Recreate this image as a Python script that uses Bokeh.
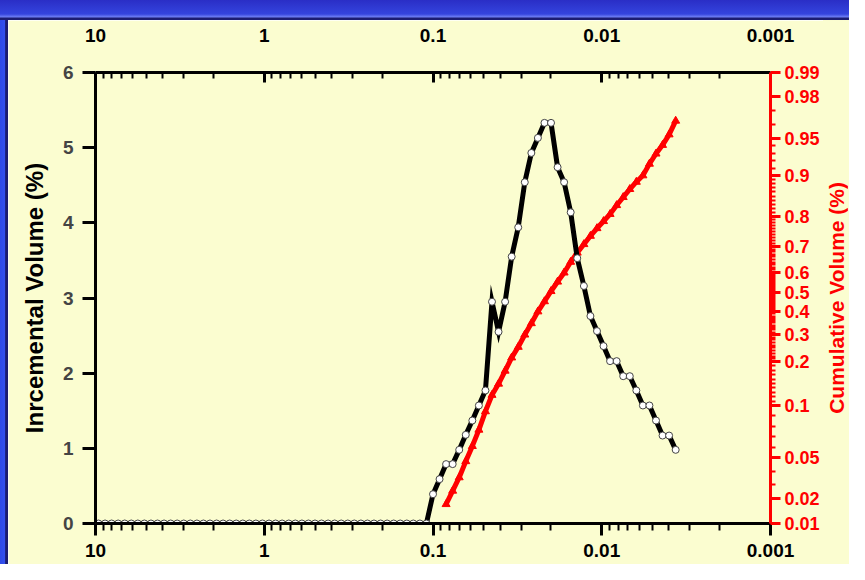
import numpy as np
from bokeh.plotting import figure
from bokeh.models import (Range1d, LogAxis, LinearAxis, FixedTicker,
                          CustomJSTickFormatter, Div)
from bokeh.layouts import column, row
from bokeh.embed import file_html
from bokeh.resources import INLINE

# ---------------- data ----------------
# particle diameter of each size class (same unit as the axis), coarse -> fine
diameter = [
    9.603, 8.780, 8.029, 7.341, 6.713, 6.138, 5.613, 5.132, 4.692, 4.291,
    3.923, 3.587, 3.281, 3.000, 2.742, 2.507, 2.293, 2.097, 1.917, 1.754,
    1.603, 1.466, 1.340, 1.226, 1.121, 1.025, 0.9372, 0.8569, 0.7837, 0.7158,
    0.6545, 0.5984, 0.5473, 0.5005, 0.4577, 0.4184, 0.3827, 0.3499, 0.3199, 0.2926,
    0.2675, 0.2446, 0.2237, 0.2045, 0.1870, 0.1710, 0.1564, 0.1430, 0.1308, 0.1196,
    0.1094,
    0.1000, 0.09145, 0.08363, 0.07647, 0.06993, 0.06394, 0.05847, 0.05347, 0.04889, 0.04471,
    0.04088, 0.03738, 0.03418, 0.03126, 0.02858, 0.02613, 0.02390, 0.02185, 0.01998, 0.01827,
    0.01671, 0.01528, 0.01397, 0.01276, 0.01167, 0.01067, 0.009759, 0.008924, 0.008160, 0.007462,
    0.006823, 0.006238, 0.005704, 0.005217, 0.004770, 0.004362, 0.003989, 0.003647,
]

# incremental volume (%) of each size class
incremental = [
    0.0, 0.0, 0.0, 0.0, 0.0, 0.0, 0.0, 0.0, 0.0, 0.0,
    0.0, 0.0, 0.0, 0.0, 0.0, 0.0, 0.0, 0.0, 0.0, 0.0,
    0.0, 0.0, 0.0, 0.0, 0.0, 0.0, 0.0, 0.0, 0.0, 0.0,
    0.0, 0.0, 0.0, 0.0, 0.0, 0.0, 0.0, 0.0, 0.0, 0.0,
    0.0, 0.0, 0.0, 0.0, 0.0, 0.0, 0.0, 0.0, 0.0, 0.0,
    0.0,
    0.39, 0.59, 0.79, 0.79, 0.98, 1.18, 1.37, 1.57, 1.77, 2.95,
    2.55, 2.95, 3.55, 3.94, 4.54, 4.93, 5.13, 5.33, 5.33, 4.74,
    4.54, 4.14, 3.53, 3.16, 2.76, 2.56, 2.36, 2.16, 2.16, 1.96,
    1.96, 1.77, 1.57, 1.57, 1.37, 1.17, 1.17, 0.98,
]

# cumulative volume (fraction) for the classes from 0.08363 down to 0.003647
cum_diameter = diameter[53:]
cumulative = [
    0.0177, 0.0256, 0.0354, 0.0472, 0.0609, 0.0766, 0.0943, 0.1238, 0.1493, 0.1788,
    0.2143, 0.2537, 0.2991, 0.3484, 0.3997, 0.4530, 0.5063, 0.5537, 0.5991, 0.6405,
    0.6758, 0.7074, 0.7350, 0.7606, 0.7842, 0.8058, 0.8274, 0.8470, 0.8666, 0.8843,
    0.9000, 0.9157, 0.9294, 0.9411, 0.9528, 0.9626,
]

# axis tick values
x_ticks = [10, 1, 0.1, 0.01, 0.001]
y_ticks = [0, 1, 2, 3, 4, 5, 6]
prob_ticks = [0.01, 0.02, 0.05, 0.1, 0.2, 0.3, 0.4, 0.5, 0.6, 0.7, 0.8, 0.9, 0.95, 0.98, 0.99]
prob_labels = ["0.01", "0.02", "0.05", "0.1", "0.2", "0.3", "0.4", "0.5", "0.6", "0.7",
               "0.8", "0.9", "0.95", "0.98", "0.99"]

# ---------------- probability axis scale ----------------
# position of each probability tick along the right axis (0 = bottom, 1 = top)
prob_scale = [0.0, 0.0554, 0.1463, 0.2616, 0.3592, 0.4191, 0.4701, 0.5122,
              0.5565, 0.6142, 0.6807, 0.7716, 0.8537, 0.9468, 1.0]


def to_prob_axis(v):
    return np.interp(v, prob_ticks, prob_scale)


prob_minor = [round(0.01 * k, 2) for k in range(2, 99)]
prob_minor = [m for m in prob_minor if m not in prob_ticks]

x_minor = [m * 10.0 ** e for e in range(-3, 1) for m in range(2, 10)]

# ---------------- styling ----------------
YELLOW = "#FBFDD0"
FONT = "Liberation Sans"
RED = "#FF0000"
TICK_SIZE = "19px"

p = figure(width=815, height=544, x_axis_type="log",
           x_range=Range1d(10, 0.001), y_range=Range1d(0, 6),
           output_backend="svg", toolbar_location=None,
           min_border_left=87, min_border_right=53,
           min_border_top=52, min_border_bottom=41,
           background_fill_color=YELLOW, border_fill_color=YELLOW,
           outline_line_color=None)
p.margin = 0
p.grid.visible = False
p.extra_y_ranges = {"prob": Range1d(0, 1)}

fmt = CustomJSTickFormatter(code="return tick.toString();")


def style_x(ax, above):
    ax.ticker = FixedTicker(ticks=x_ticks, minor_ticks=x_minor)
    ax.formatter = fmt
    ax.axis_line_width = 3
    ax.axis_line_color = "black"
    ax.major_tick_line_width = 3
    ax.minor_tick_line_width = 2
    ax.major_label_text_font = FONT
    ax.major_label_text_font_style = "bold"
    ax.major_label_text_font_size = TICK_SIZE
    ax.major_label_text_color = "black"
    if above:
        ax.major_tick_in = 10
        ax.major_tick_out = 0
        ax.minor_tick_in = 6
        ax.minor_tick_out = 0
        ax.major_label_standoff = 31
    else:
        ax.major_tick_in = 0
        ax.major_tick_out = 12
        ax.minor_tick_in = 0
        ax.minor_tick_out = 7
        ax.major_label_standoff = 8


style_x(p.xaxis[0], above=False)
top = LogAxis()
style_x(top, above=True)
p.add_layout(top, "above")

yax = p.yaxis[0]
yax.ticker = FixedTicker(ticks=y_ticks)
yax.axis_label = "Inrcemental Volume (%)"
yax.axis_label_text_font = FONT
yax.axis_label_text_font_style = "bold"
yax.axis_label_text_font_size = "24px"
yax.axis_label_text_color = "black"
yax.axis_label_standoff = 12
yax.axis_line_width = 3
yax.major_tick_line_width = 3
yax.major_tick_in = 0
yax.major_tick_out = 13
yax.minor_tick_line_color = None
yax.major_label_text_font = FONT
yax.major_label_text_font_style = "bold"
yax.major_label_text_font_size = TICK_SIZE
yax.major_label_standoff = 9

prob_fmt = CustomJSTickFormatter(
    args=dict(pos=prob_scale, labels=prob_labels),
    code="""
const i = pos.findIndex(v => Math.abs(v - tick) < 1e-9);
return i >= 0 ? labels[i] : '';
""")
rax = LinearAxis(y_range_name="prob",
                 ticker=FixedTicker(ticks=prob_scale,
                                    minor_ticks=[float(v) for v in to_prob_axis(prob_minor)]),
                 formatter=prob_fmt)
rax.axis_line_color = RED
rax.axis_line_width = 3
rax.major_tick_line_color = RED
rax.major_tick_line_width = 3
rax.major_tick_in = 0
rax.major_tick_out = 10
rax.minor_tick_line_color = RED
rax.minor_tick_line_width = 2
rax.minor_tick_in = 0
rax.minor_tick_out = 5
rax.major_label_text_font = FONT
rax.major_label_text_font_style = "bold"
rax.major_label_text_font_size = "18px"
rax.major_label_text_color = RED
rax.major_label_standoff = 4
p.add_layout(rax, "right")

# ---------------- series ----------------
p.line(cum_diameter, to_prob_axis(cumulative), y_range_name="prob",
       line_color=RED, line_width=5)
p.scatter(cum_diameter, to_prob_axis(cumulative), y_range_name="prob",
          marker="triangle", size=8, fill_color=RED, line_color=RED)

p.line(diameter, incremental, line_color="black", line_width=5, line_join="miter")
p.scatter(diameter, incremental, marker="circle", size=7,
          fill_color="white", line_color="#444444", line_width=1)

# ---------------- right axis title (reads bottom-to-top) ----------------
right_title = Div(
    width=26, height=544, margin=0,
    styles={"background-color": YELLOW},
    text=('<div style="width:26px;height:544px;box-sizing:border-box;padding-top:11px;'
          'display:flex;align-items:center;justify-content:flex-end;">'
          '<span style="writing-mode:vertical-rl;transform:rotate(180deg);'
          "font-family:'Liberation Sans';font-weight:bold;font-size:21px;"
          'color:#FF0000;white-space:nowrap;line-height:24px;">'
          'Cumulative Volume (%)</span></div>'))

# ---------------- frame (blue surround) ----------------
top_strip = Div(width=849, height=20, margin=0, styles={
    "background": "linear-gradient(to bottom, #2a2ec6 0%, #3444de 70%, #6f7ff5 85%, #1b1c72 90%, #1b1c72 100%)"})
left_strip = Div(width=8, height=544, margin=0, styles={
    "background": "linear-gradient(to right, #2f4ae6 0%, #3350ee 60%, #1b1c72 70%, #1b1c72 100%)"})
layout = column(top_strip, row(left_strip, p, right_title, spacing=0, margin=0),
                spacing=0, margin=0)

open("out.html", "w").write(file_html(layout, INLINE))
